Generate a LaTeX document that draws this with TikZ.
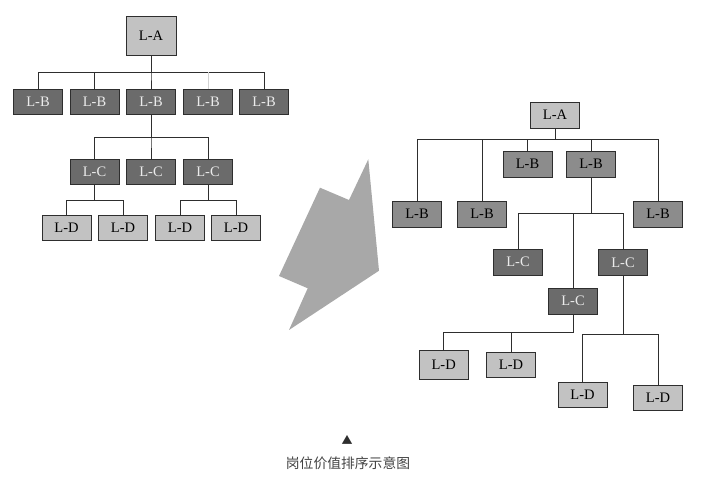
\documentclass[tikz,border=0pt]{standalone}
\usepackage{fontspec}
\usetikzlibrary{calc}
\setmainfont{Liberation Serif}
\newfontfamily\cjkfont{Noto Sans CJK SC}
\definecolor{boxlight}{HTML}{C2C2C2}
\definecolor{boxdark}{HTML}{6B6B6B}
\definecolor{boxmid}{HTML}{8C8C8C}
\definecolor{linecol}{HTML}{2E2E2E}
\definecolor{arrowgray}{HTML}{A8A8A8}
\begin{document}
\begin{tikzpicture}[x=1pt, y=-1pt,
        lightbox/.style={rectangle, draw=linecol, fill=boxlight, line width=0.9pt, minimum width=49pt, minimum height=25pt, inner sep=0pt, font=\fontsize{14.5}{14.5}\selectfont, text=black},
        darkbox/.style={lightbox, fill=boxdark, text=white!92!black},
        midbox/.style={lightbox, fill=boxmid, text=black},
        link/.style={draw=linecol, line width=0.9pt}
    ]
    \useasboundingbox (0,0) rectangle (721,489);
    % Left tree
    \node[lightbox, minimum width=50pt, minimum height=39pt] (la) at (151,35.5) {L-A};
    \node[darkbox] (lb1) at (38,101.5) {L-B};
    \node[darkbox] (lb2) at (94.5,101.5) {L-B};
    \node[darkbox] (lb3) at (151,101.5) {L-B};
    \node[darkbox] (lb4) at (208,101.5) {L-B};
    \node[darkbox] (lb5) at (264,101.5) {L-B};
    \node[darkbox] (lc1) at (94.5,171.5) {L-C};
    \node[darkbox] (lc2) at (151,171.5) {L-C};
    \node[darkbox] (lc3) at (208,171.5) {L-C};
    \node[lightbox] (ld1) at (66.5,227.5) {L-D};
    \node[lightbox] (ld2) at (123,227.5) {L-D};
    \node[lightbox] (ld3) at (180,227.5) {L-D};
    \node[lightbox] (ld4) at (236,227.5) {L-D};
    \foreach \c in {lb1,lb2,lb3,lb5}
        \draw[link] (la.south) -- ++(0,17) -| (\c.north);
    \coordinate (lknee) at ($(la.south)+(57,17)$);
    \draw[link] (la.south) -- ++(0,17) -- (lknee);
    \draw[draw=gray!35, line width=0.9pt] (lknee) -- (lb4.north);
    \foreach \c in {lc1,lc2,lc3}
        \draw[link] (lb3.south) -- ++(0,23) -| (\c.north);
    \foreach \c in {ld1,ld2}
        \draw[link] (lc1.south) -- ++(0,16) -| (\c.north);
    \foreach \c in {ld3,ld4}
        \draw[link] (lc3.south) -- ++(0,16) -| (\c.north);

    % Arrow
    \fill[arrowgray] (368.3,159.3) -- (379,270.7) -- (289,330) -- (307.7,288.3)
        -- (279,276) -- (320,187.7) -- (349,200) -- cycle;

    % Right tree
    \node[lightbox, minimum height=26pt] (ra) at (555,115) {L-A};
    \node[midbox, minimum height=26pt] (rb1) at (417,214) {L-B};
    \node[midbox, minimum height=26pt] (rb2) at (482,214) {L-B};
    \node[midbox, minimum height=26pt] (rb3) at (527.5,164) {L-B};
    \node[midbox, minimum height=26pt] (rb4) at (591,164) {L-B};
    \node[midbox, minimum height=26pt] (rb5) at (658,214) {L-B};
    \node[darkbox, minimum height=26pt] (rc1) at (518,262) {L-C};
    \node[darkbox, minimum height=26pt] (rc2) at (573,301) {L-C};
    \node[darkbox, minimum height=26pt] (rc3) at (623,262.5) {L-C};
    \node[lightbox, minimum height=29pt] (rd1) at (443.7,364.5) {L-D};
    \node[lightbox] (rd2) at (511,365) {L-D};
    \node[lightbox] (rd3) at (582.5,395) {L-D};
    \node[lightbox] (rd4) at (658,398) {L-D};
    \foreach \c in {rb1,rb2,rb3,rb4,rb5}
        \draw[link] (ra.south) -- ++(0,11) -| (\c.north);
    \draw[link] (rb4.south) -- ++(0,36) coordinate (rbus);
    \foreach \c in {rc1,rc2,rc3}
        \draw[link] (rbus) -| (\c.north);
    \foreach \c in {rd1,rd2}
        \draw[link] (rc2.south) -- ++(0,18) -| (\c.north);
    \foreach \c in {rd3,rd4}
        \draw[link] (rc3.south) -- ++(0,59) -| (\c.north);

    % Caption
    \node[font=\fontsize{11}{11}\selectfont, text=linecol] (mark) at (347,440) {\cjkfont ▲};
    \node[font=\fontsize{13.8}{13.8}\selectfont, text=linecol!90!white] (caption) at (348,463.5) {\cjkfont 岗位价值排序示意图};
\end{tikzpicture}
\end{document}
